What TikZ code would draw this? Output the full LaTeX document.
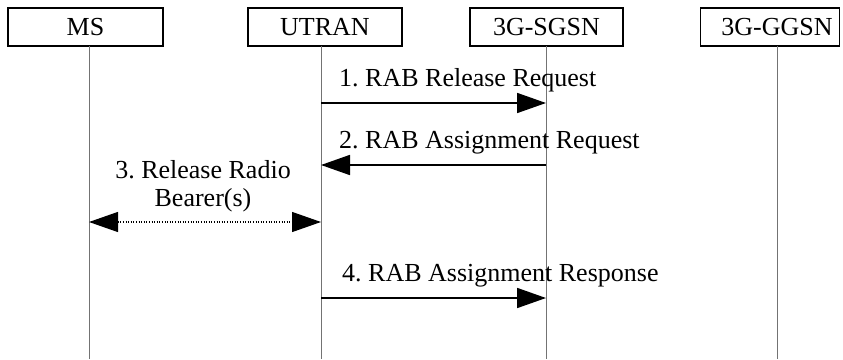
\documentclass[tikz,border=0pt]{standalone}
\usepackage{fontspec}
\setmainfont{Liberation Serif}
\usetikzlibrary{arrows.meta}
\begin{document}
\frenchspacing
\begin{tikzpicture}[x=1pt,y=-1pt,
  txt/.style={font=\fontsize{26}{28}\selectfont\frenchspacing, inner sep=0pt},
  entity/.style={draw=black, line width=1.4pt, minimum height=38pt, inner sep=0pt, font=\fontsize{26}{28}\selectfont},
  life/.style={draw=black!55, line width=1pt},
  msg/.style={draw=black, line width=1.7pt, -{Triangle[length=29pt,width=20pt]}},
  dmsg/.style={draw=black, line width=1.2pt, dash pattern=on 1pt off 1.6pt,
     {Triangle[length=29pt,width=20pt]}-{Triangle[length=29pt,width=20pt]}}]
\useasboundingbox (0,0) rectangle (843,359);
\fill[white] (0,0) rectangle (843,359);
% entities
\node[entity, minimum width=155pt] (ms) at (85.5,27) {MS};
\node[entity, minimum width=154pt] (utran) at (325,27) {UTRAN};
\node[entity, minimum width=153pt] (sgsn) at (546.5,27) {3G-SGSN};
\node[entity, minimum width=139pt] (ggsn) at (770,27) {\hspace*{14pt}3G-GGSN};
% lifelines
\coordinate (msT) at (89,46);   \coordinate (msB) at (89,359);
\coordinate (uT) at (321,46);   \coordinate (uB) at (321,359);
\coordinate (sT) at (546,46);   \coordinate (sB) at (546,359);
\coordinate (gT) at (777,46);   \coordinate (gB) at (777,359);
\draw[life] (msT) -- (msB);
\draw[life] (uT) -- (uB);
\draw[life] (sT) -- (sB);
\draw[life] (gT) -- (gB);
% message points
\coordinate (u1) at (321,103); \coordinate (s1) at (546,103);
\coordinate (s2) at (546,165); \coordinate (u2) at (321,165);
\coordinate (m3) at (89,222);  \coordinate (u3) at (321,222);
\coordinate (u4) at (321,298); \coordinate (s4) at (546,298);
% messages
\draw[msg] (u1) -- (s1);
\node[txt, anchor=base west] (t1) at (339,86) {1. RAB Release Request};
\draw[msg] (s2) -- (u2);
\node[txt, anchor=base west] (t2) at (339,148) {2. RAB Assignment Request};
\draw[dmsg] (m3) -- (u3);
\node[txt, align=center] (t3) at (203,186) {3. Release Radio\\Bearer(s)};
\draw[msg] (u4) -- (s4);
\node[txt, anchor=base west] (t4) at (342,281) {4. RAB Assignment Response};
\end{tikzpicture}
\end{document}
